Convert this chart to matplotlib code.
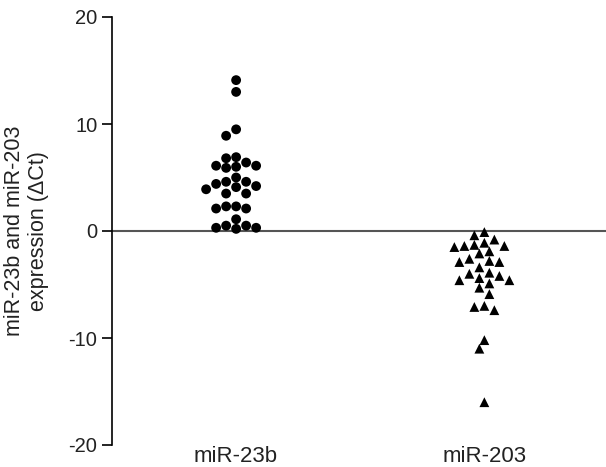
import numpy as np
import matplotlib
matplotlib.use("Agg")
import matplotlib.pyplot as plt

plt.rcParams["font.family"] = ["Liberation Sans", "DejaVu Sans"]
plt.rcParams["axes.unicode_minus"] = False

# values (delta Ct)
groups = ["miR-23b", "miR-203"]
mir23b = [14.1, 13.0, 9.5, 8.9, 6.9, 6.8, 6.4, 6.1, 6.1, 6.0, 5.9, 5.0,
          4.6, 4.6, 4.4, 4.2, 4.1, 3.9, 3.5, 3.5, 2.3, 2.3, 2.1, 2.1,
          1.1, 0.5, 0.5, 0.3, 0.3, 0.2]
mir203 = [-0.1, -0.4, -0.8, -1.1, -1.3, -1.4, -1.4, -1.5, -1.9, -2.1,
          -2.6, -2.8, -2.9, -2.9, -3.4, -3.9, -4.0, -4.2, -4.4, -4.6,
          -4.6, -4.9, -5.3, -5.9, -7.0, -7.1, -7.4, -10.2, -11.0, -16.0]
yticks = [-20, -10, 0, 10, 20]

W, H = 606, 467
fig = plt.figure(figsize=(W / 100, H / 100), dpi=100)
ax = fig.add_axes([112 / W, 22 / H, 1 - 112 / W, (446 - 18) / H])
ax.set_xlim(-0.5, 1.49)
ax.set_ylim(-20, 20)

# pixel scale so the swarm spacing works in screen units
px_x = ax.get_position().width * W / 1.99
px_y = ax.get_position().height * H / 40


def swarm(vals, d=10.0):
    # simple beeswarm: try offsets in half-diameter steps, nearest to centre first
    order = np.argsort(vals)[::-1]
    placed = []
    xs = np.zeros(len(vals))
    steps = [0] + [s * k for k in range(1, 20) for s in (-1, 1)]
    for i in order:
        y = vals[i] * px_y
        for k in steps:
            x = k * d / 2
            if all((x - px) ** 2 + (y - py) ** 2 >= (d * 0.95) ** 2 for px, py in placed):
                break
        placed.append((x, y))
        xs[i] = x / px_x
    return xs


ax.axhline(0, color="#555555", lw=1.5, zorder=1)

for pos, vals, mk, size in [(0, mir23b, "o", 50), (1, mir203, "^", 50)]:
    vals = np.array(vals)
    ax.scatter(pos + swarm(vals), vals, marker=mk, s=size, color="black",
               edgecolors="none", zorder=3)

ax.set_xticks([0, 1])
ax.set_xticklabels(groups, fontsize=16, color="#222222")
ax.tick_params(axis="x", length=0, pad=0.5)
ax.set_yticks(yticks)
ax.tick_params(axis="y", labelsize=14.5, length=7, width=1.2, direction="out",
               labelcolor="#222222")
for s in ["top", "right", "bottom"]:
    ax.spines[s].set_visible(False)
ax.spines["left"].set_linewidth(1.2)
ax.set_ylabel("miR-23b and miR-203\nexpression (\u0394Ct)", fontsize=15.5,
              labelpad=14, color="#222222")

fig.savefig("out.png", dpi=100)
